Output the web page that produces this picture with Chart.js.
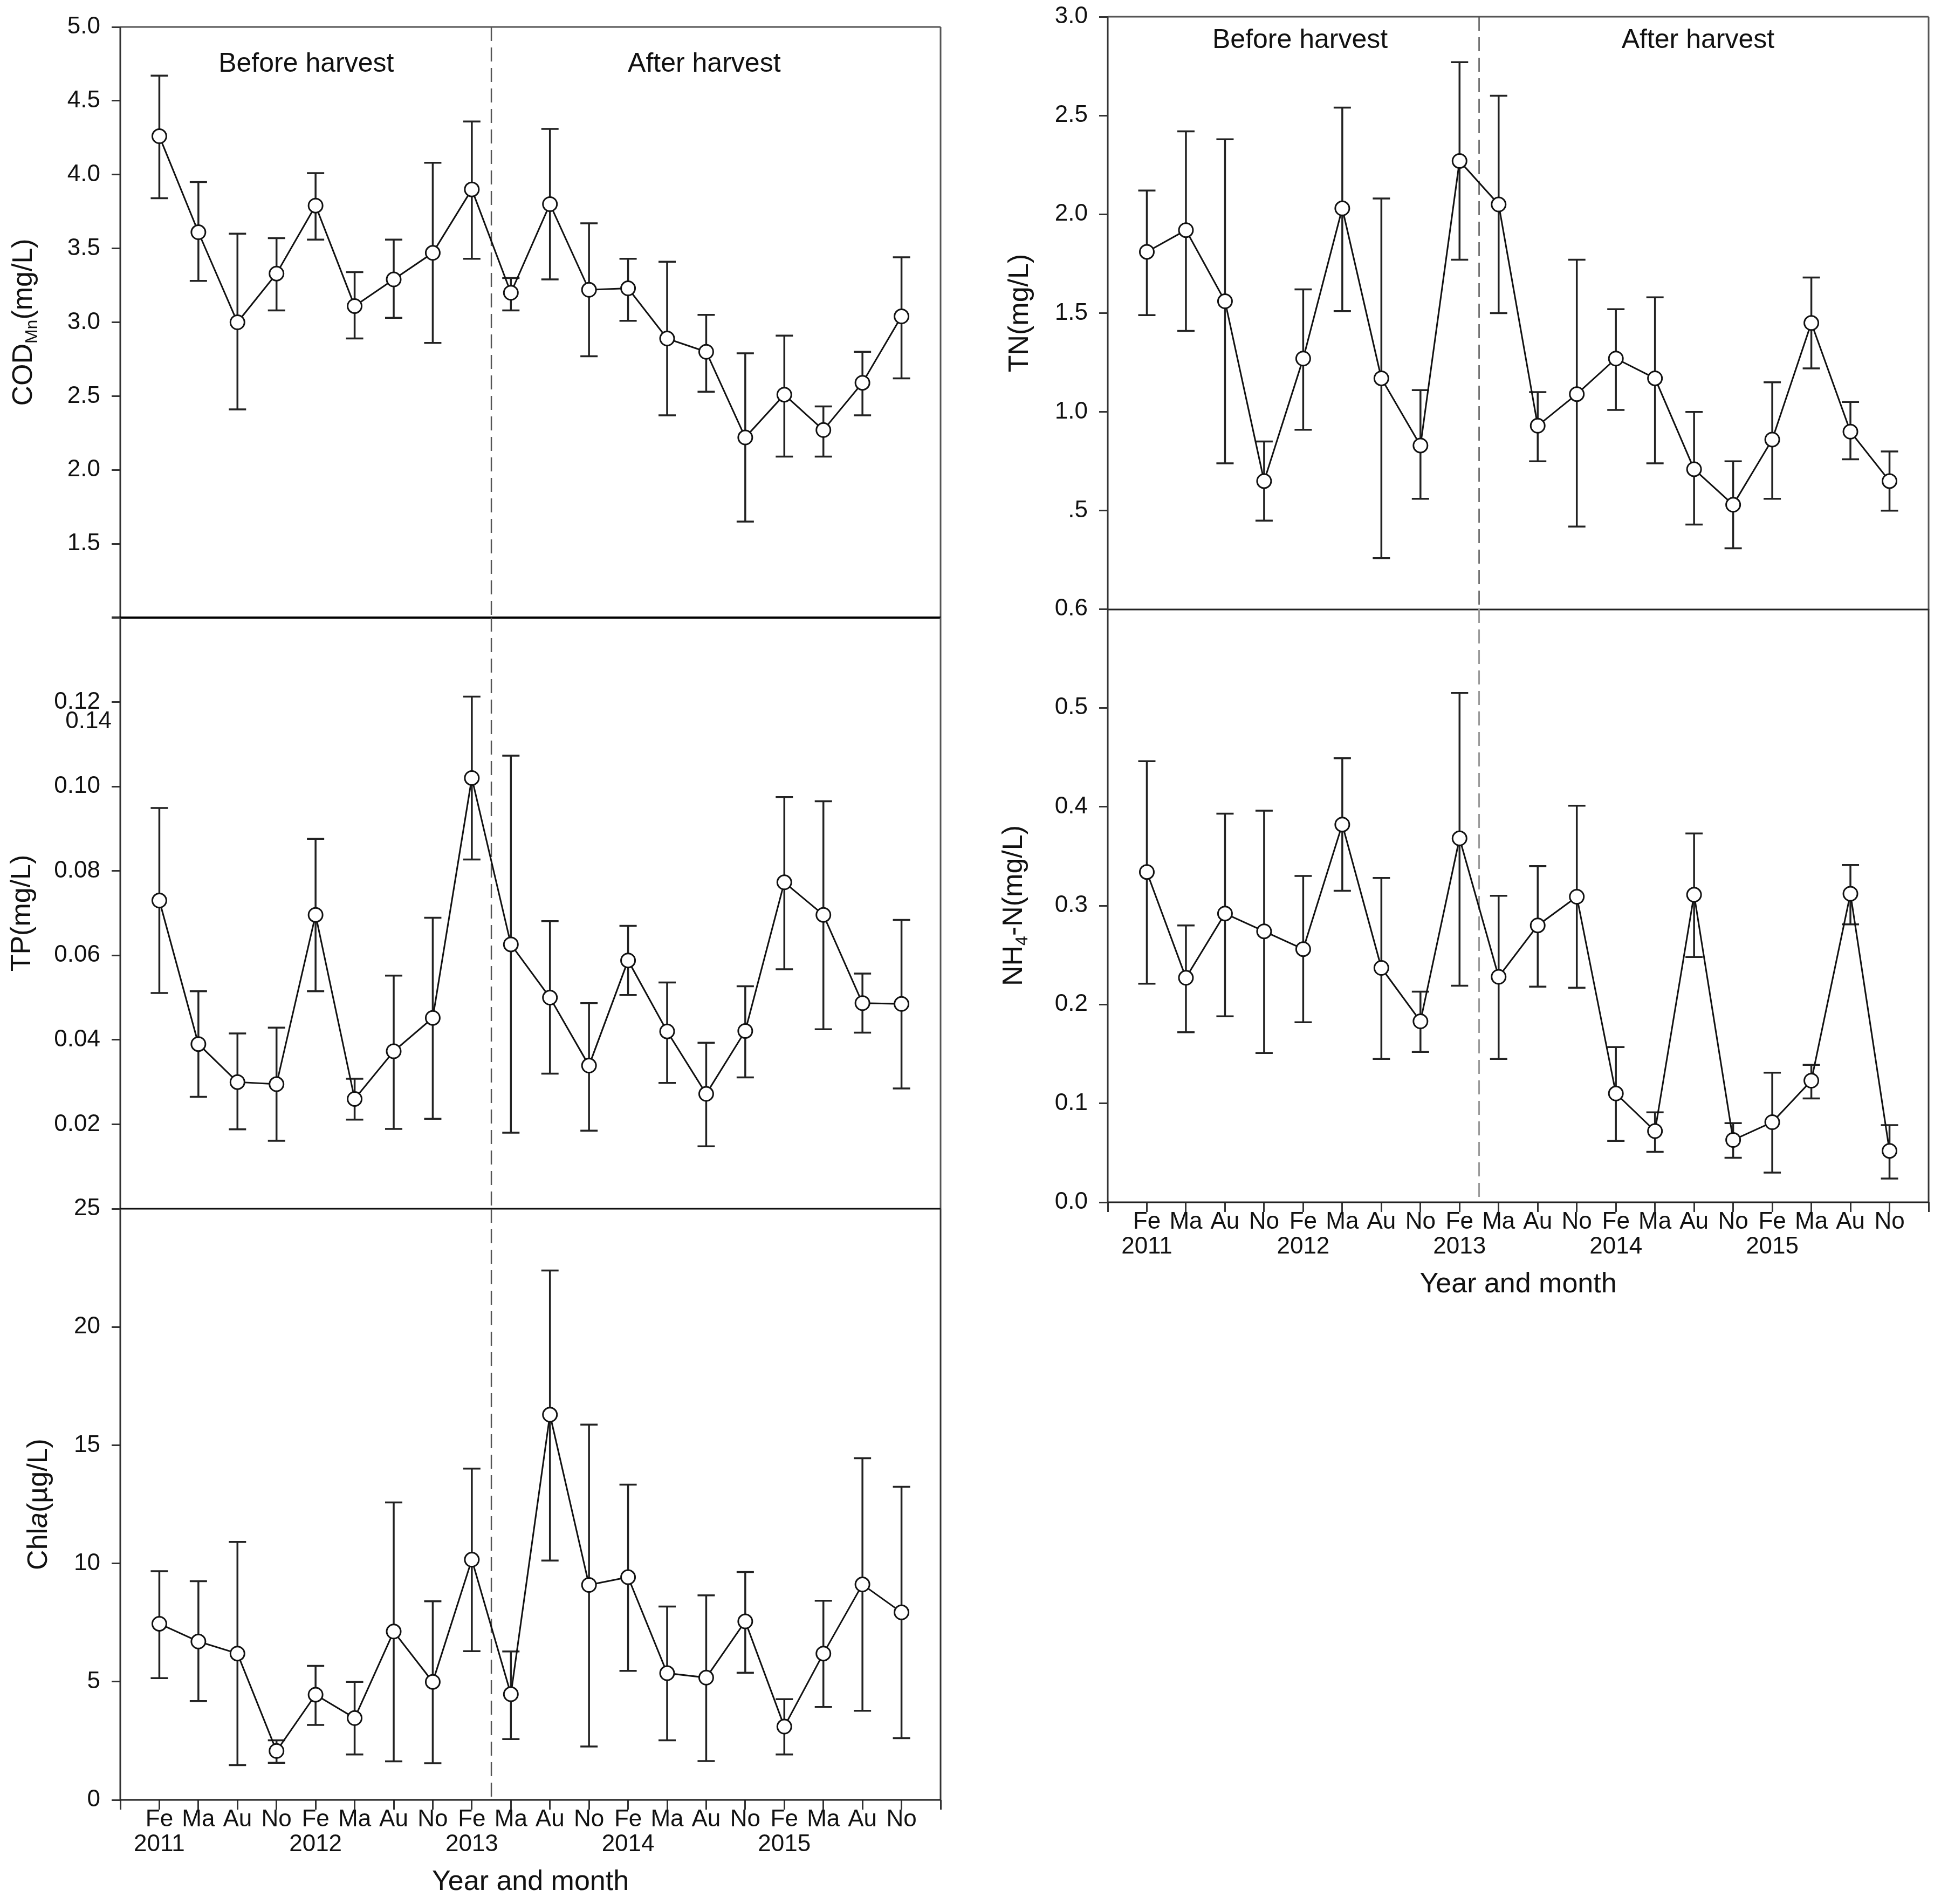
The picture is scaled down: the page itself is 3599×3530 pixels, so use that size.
<!DOCTYPE html>
<html>
<head>
<meta charset="utf-8">
<script src="https://cdn.jsdelivr.net/npm/chart.js@4.4.1/dist/chart.umd.min.js"></script>
<style>
  html, body { margin: 0; padding: 0; background: #fff; }
  #page { position: relative; width: 3599px; height: 3530px; background: #fff; }
  #page canvas { position: absolute; }
</style>
</head>
<body>
<div id="page">
  <canvas id="cod"></canvas>
  <canvas id="tp"></canvas>
  <canvas id="chla"></canvas>
  <canvas id="tn"></canvas>
  <canvas id="nh4"></canvas>
</div>
<script>
// sampling months, Feb 2011 .. Nov 2015
const months = ['Fe', 'Ma', 'Au', 'No'];
const years = ['2011', '2012', '2013', '2014', '2015'];

// CODMn (mg/L): mean and error bar ends
const codMean  = [4.26, 3.61, 3.00, 3.33, 3.79, 3.11, 3.29, 3.47, 3.90, 3.20, 3.80, 3.22, 3.23, 2.89, 2.80, 2.22, 2.51, 2.27, 2.59, 3.04];
const codUpper = [4.67, 3.95, 3.60, 3.57, 4.01, 3.34, 3.56, 4.08, 4.36, 3.30, 4.31, 3.67, 3.43, 3.41, 3.05, 2.79, 2.91, 2.43, 2.80, 3.44];
const codLower = [3.84, 3.28, 2.41, 3.08, 3.56, 2.89, 3.03, 2.86, 3.43, 3.08, 3.29, 2.77, 3.01, 2.37, 2.53, 1.65, 2.09, 2.09, 2.37, 2.62];

// TP (mg/L)
const tpMean  = [0.073, 0.039, 0.030, 0.0295, 0.0696, 0.026, 0.0373, 0.0452, 0.102, 0.0626, 0.050, 0.0339, 0.0588, 0.042, 0.0272, 0.0421, 0.0773, 0.0696, 0.0487, 0.0485];
const tpUpper = [0.0949, 0.0515, 0.0415, 0.0429, 0.0876, 0.0308, 0.0552, 0.0689, 0.1213, 0.1073, 0.0681, 0.0487, 0.067, 0.0536, 0.0393, 0.0527, 0.0975, 0.0965, 0.0557, 0.0684];
const tpLower = [0.0511, 0.0265, 0.0188, 0.0161, 0.0515, 0.0211, 0.0189, 0.0213, 0.0827, 0.018, 0.032, 0.0185, 0.0506, 0.0298, 0.0148, 0.0311, 0.0567, 0.0425, 0.0417, 0.0285];

// Chla (ug/L)
const chlaMean  = [7.45, 6.70, 6.19, 2.07, 4.45, 3.46, 7.12, 4.99, 10.16, 4.47, 16.29, 9.09, 9.42, 5.36, 5.17, 7.55, 3.10, 6.19, 9.11, 7.93];
const chlaUpper = [9.67, 9.25, 10.91, 2.52, 5.67, 4.99, 12.58, 8.40, 14.01, 6.28, 22.39, 15.87, 13.33, 8.18, 8.65, 9.64, 4.26, 8.42, 14.45, 13.24];
const chlaLower = [5.15, 4.18, 1.47, 1.57, 3.17, 1.92, 1.63, 1.55, 6.29, 2.57, 10.12, 2.26, 5.46, 2.52, 1.64, 5.38, 1.92, 3.93, 3.77, 2.61];

// TN (mg/L)
const tnMean  = [1.81, 1.92, 1.56, 0.65, 1.27, 2.03, 1.17, 0.83, 2.27, 2.05, 0.93, 1.09, 1.27, 1.17, 0.71, 0.53, 0.86, 1.45, 0.90, 0.65];
const tnUpper = [2.12, 2.42, 2.38, 0.85, 1.62, 2.54, 2.08, 1.11, 2.77, 2.60, 1.10, 1.77, 1.52, 1.58, 1.00, 0.75, 1.15, 1.68, 1.05, 0.80];
const tnLower = [1.49, 1.41, 0.74, 0.45, 0.91, 1.51, 0.26, 0.56, 1.77, 1.50, 0.75, 0.42, 1.01, 0.74, 0.43, 0.31, 0.56, 1.22, 0.76, 0.50];

// NH4-N (mg/L)
const nh4Mean  = [0.334, 0.227, 0.292, 0.274, 0.256, 0.382, 0.237, 0.183, 0.368, 0.228, 0.280, 0.309, 0.110, 0.072, 0.311, 0.063, 0.081, 0.123, 0.312, 0.052];
const nh4Upper = [0.446, 0.280, 0.393, 0.396, 0.330, 0.449, 0.328, 0.213, 0.515, 0.310, 0.340, 0.401, 0.157, 0.091, 0.373, 0.080, 0.131, 0.139, 0.341, 0.078];
const nh4Lower = [0.221, 0.172, 0.188, 0.151, 0.182, 0.315, 0.145, 0.152, 0.219, 0.145, 0.218, 0.217, 0.062, 0.051, 0.248, 0.045, 0.030, 0.105, 0.281, 0.024];

// y tick values per panel
const codTicks  = [1.5, 2.0, 2.5, 3.0, 3.5, 4.0, 4.5, 5.0];
const tpTicks   = [0.02, 0.04, 0.06, 0.08, 0.10, 0.12, 0.14];
const chlaTicks = [0, 5, 10, 15, 20, 25];
const tnTicks   = [0.5, 1.0, 1.5, 2.0, 2.5, 3.0];
const nh4Ticks  = [0, 0.1, 0.2, 0.3, 0.4, 0.5, 0.6];

const harvestAt = 8.5; // between Fe 2013 and Ma 2013

const FONT = '"Liberation Sans", Arial, sans-serif';
Chart.defaults.font.family = FONT;
Chart.defaults.color = '#111';

const YW = 150; // y scale box width
const XH = 140; // x scale box height (bottom panels)
const TICK_FONT = 44;

function monthLabel(v) {
  if (v < 0 || v > 19) return '';
  return v % 4 === 0 ? [months[0], years[v / 4]] : months[v % 4];
}

function line(ctx, x1, y1, x2, y2, color, w) {
  ctx.save();
  ctx.strokeStyle = color; ctx.lineWidth = w;
  ctx.beginPath(); ctx.moveTo(x1, y1); ctx.lineTo(x2, y2); ctx.stroke();
  ctx.restore();
}

// axis title with sub-script / italic parts, rotated
function verticalTitle(ctx, parts, cx, cy, size) {
  const fontFor = p => (p.italic ? 'italic ' : '') + Math.round(p.sub ? size * 0.62 : size) + 'px ' + FONT;
  ctx.save();
  ctx.translate(cx, cy);
  ctx.rotate(-Math.PI / 2);
  ctx.fillStyle = '#111';
  ctx.textBaseline = 'middle';
  ctx.textAlign = 'left';
  let total = 0;
  parts.forEach(p => { ctx.font = fontFor(p); total += ctx.measureText(p.t).width; });
  let x0 = -total / 2;
  parts.forEach(p => {
    ctx.font = fontFor(p);
    ctx.fillText(p.t, x0, p.sub ? size * 0.3 : 0);
    x0 += ctx.measureText(p.t).width;
  });
  ctx.restore();
}

function text(ctx, t, x, y, size, align) {
  ctx.save();
  ctx.font = size + 'px ' + FONT;
  ctx.fillStyle = '#111';
  ctx.textAlign = align || 'center';
  ctx.textBaseline = 'middle';
  ctx.fillText(t, x, y);
  ctx.restore();
}

function noPad(s) {
  s.paddingTop = 0; s.paddingBottom = 0; s.paddingLeft = 0; s.paddingRight = 0;
}

function panel(o) {
  const cv = document.getElementById(o.id);
  cv.width = o.box[2]; cv.height = o.box[3];
  cv.style.left = o.box[0] + 'px'; cv.style.top = o.box[1] + 'px';
  cv.style.width = o.box[2] + 'px'; cv.style.height = o.box[3] + 'px';
  const bottomAxis = !!o.xTitle;
  // chart area edges given in o.area = [left, top, right, bottom] (canvas px)
  const a0 = o.area;
  const pad = {
    left: a0[0] - YW,
    top: a0[1],
    right: o.box[2] - a0[2],
    bottom: o.box[3] - a0[3] - (bottomAxis ? XH : 0)
  };

  const deco = {
    id: 'deco',
    beforeDatasetsDraw(chart) {
      const { ctx, chartArea: a, scales: { x, y } } = chart;
      // harvest divider
      ctx.save();
      ctx.strokeStyle = o.dashColor || '#555';
      ctx.lineWidth = o.dashWidth || 2.5;
      ctx.setLineDash([26, 12]);
      const xd = x.getPixelForValue(harvestAt);
      ctx.beginPath(); ctx.moveTo(xd, a.top); ctx.lineTo(xd, a.bottom); ctx.stroke();
      ctx.restore();
      // error bars
      ctx.save();
      ctx.strokeStyle = '#222'; ctx.lineWidth = 3.5;
      o.upper.forEach((hi, i) => {
        const px = x.getPixelForValue(i);
        const yh = y.getPixelForValue(hi), yl = y.getPixelForValue(o.lower[i]);
        ctx.beginPath();
        ctx.moveTo(px, yh); ctx.lineTo(px, yl);
        ctx.moveTo(px - 16, yh); ctx.lineTo(px + 16, yh);
        ctx.moveTo(px - 16, yl); ctx.lineTo(px + 16, yl);
        ctx.stroke();
      });
      ctx.restore();
    },
    afterDraw(chart) {
      const { ctx, chartArea: a, scales: { x } } = chart;
      const f = o.frame;
      if (f.top) line(ctx, a.left, a.top, a.right, a.top, f.top[0], f.top[1]);
      if (f.left) line(ctx, a.left, a.top, a.left, a.bottom, f.left[0], f.left[1]);
      if (f.right) line(ctx, a.right, a.top, a.right, a.bottom, f.right[0], f.right[1]);
      if (f.bottom) line(ctx, a.left - (f.bottom[2] || 0), a.bottom, a.right, a.bottom, f.bottom[0], f.bottom[1]);
      verticalTitle(ctx, o.yTitle, a.left + o.titleDx, (a.top + a.bottom) / 2, 52);
      if (o.regions) {
        text(ctx, 'Before harvest', x.getPixelForValue(o.regions[0]), a.top + o.regions[2], 50);
        text(ctx, 'After harvest', x.getPixelForValue(o.regions[1]), a.top + o.regions[2], 50);
      }
      if (o.extra) text(ctx, o.extra[0], a.left - 16, a.top + o.extra[1], TICK_FONT, 'right');
      if (bottomAxis) text(ctx, o.xTitle, (a.left + a.right) / 2, a.bottom + 153, 52);
    }
  };

  return new Chart(cv, {
    type: 'line',
    data: {
      datasets: [{
        data: o.mean.map((v, i) => ({ x: i, y: v })),
        borderColor: '#111',
        borderWidth: 3,
        pointRadius: 13,
        pointBorderWidth: 3,
        pointBackgroundColor: '#fff',
        pointBorderColor: '#111',
        tension: 0,
        fill: false
      }]
    },
    options: {
      responsive: false,
      animation: false,
      devicePixelRatio: 1,
      layout: { padding: pad },
      plugins: { legend: { display: false }, tooltip: { enabled: false } },
      scales: {
        x: {
          type: 'linear', min: -1, max: 20,
          afterFit: s => { s.height = bottomAxis ? XH : 0; noPad(s); },
          afterBuildTicks: s => { s.ticks = Array.from({ length: 22 }, (_, k) => ({ value: k - 1 })); },
          grid: { display: bottomAxis, drawOnChartArea: false, tickLength: 18, tickWidth: 3, tickColor: '#333' },
          border: { display: false },
          ticks: {
            display: bottomAxis, autoSkip: false, maxRotation: 0, minRotation: 0, padding: -4,
            font: { size: TICK_FONT, lineHeight: 1.05 }, color: '#111', callback: monthLabel
          }
        },
        y: {
          min: o.min, max: o.max,
          afterFit: s => { s.width = YW; noPad(s); },
          afterBuildTicks: s => { s.ticks = o.ticks.map(v => ({ value: v })); },
          grid: { drawOnChartArea: false, tickLength: 16, tickWidth: 3, tickColor: '#333' },
          border: { display: false },
          ticks: { padding: 21, font: { size: TICK_FONT }, color: '#111', callback: o.label }
        }
      }
    },
    plugins: [deco]
  });
}

panel({
  id: 'cod', box: [0, 0, 1800, 1180], area: [223, 50, 1744, 1145],
  mean: codMean, upper: codUpper, lower: codLower,
  min: 1, max: 5, ticks: codTicks, label: v => v.toFixed(1),
  yTitle: [{ t: 'COD' }, { t: 'Mn', sub: true }, { t: '(mg/L)' }], titleDx: -178,
  regions: [3.76, 13.95, 69],
  frame: { top: ['#555', 3], left: ['#333', 3], right: ['#555', 3], bottom: ['#000', 4, 16] }
});

panel({
  id: 'tp', box: [0, 1110, 1800, 1170], area: [223, 35, 1744, 1131],
  mean: tpMean, upper: tpUpper, lower: tpLower,
  min: 0, max: 0.14, ticks: tpTicks, label: v => (v > 0.13 ? '' : v.toFixed(2)),
  yTitle: [{ t: 'TP(mg/L)' }], titleDx: -181,
  extra: ['0.14', 193],
  frame: { left: ['#333', 3], right: ['#555', 3], bottom: ['#111', 3] }
});

panel({
  id: 'chla', box: [0, 2200, 1800, 1330], area: [223, 41, 1744, 1137],
  mean: chlaMean, upper: chlaUpper, lower: chlaLower,
  min: 0, max: 25, ticks: chlaTicks, label: v => String(v),
  yTitle: [{ t: 'Chl' }, { t: 'a', italic: true }, { t: '(\u00b5g/L)' }], titleDx: -150,
  xTitle: 'Year and month',
  frame: { left: ['#333', 3], right: ['#333', 3], bottom: ['#222', 3] }
});

panel({
  id: 'tn', box: [1800, 0, 1799, 1160], area: [254, 31, 1776, 1130],
  mean: tnMean, upper: tnUpper, lower: tnLower,
  min: 0, max: 3, ticks: tnTicks, label: v => (v === 0.5 ? '.5' : v.toFixed(1)),
  yTitle: [{ t: 'TN(mg/L)' }], titleDx: -162,
  regions: [3.92, 14.1, 44],
  frame: { top: ['#555', 3], left: ['#333', 3], right: ['#555', 3], bottom: ['#222', 3] }
});

panel({
  id: 'nh4', box: [1800, 1100, 1799, 1400], area: [254, 29, 1776, 1129],
  mean: nh4Mean, upper: nh4Upper, lower: nh4Lower,
  min: 0, max: 0.6, ticks: nh4Ticks, label: v => v.toFixed(1),
  yTitle: [{ t: 'NH' }, { t: '4', sub: true }, { t: '-N(mg/L)' }], titleDx: -173,
  xTitle: 'Year and month',
  dashColor: '#999', dashWidth: 3,
  frame: { left: ['#333', 3], right: ['#333', 3], bottom: ['#222', 3] }
});
</script>
</body>
</html>
